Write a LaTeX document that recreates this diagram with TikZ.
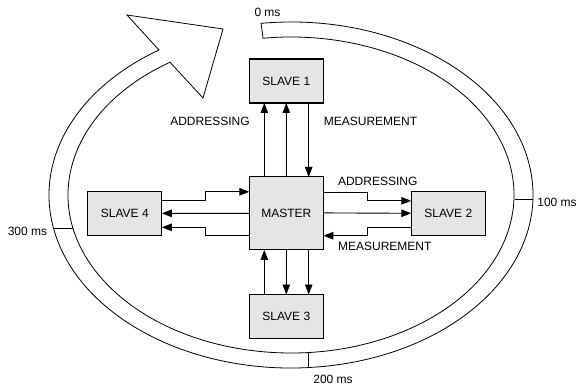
\documentclass[tikz,border=0pt]{standalone}
\usepackage{fontspec}
\setmainfont{Liberation Sans}
\usetikzlibrary{arrows.meta,calc}

\tikzset{
  unit/.style={draw=black, line width=1.1pt, fill=black!10, minimum width=74pt,
    minimum height=44pt, inner sep=0pt, outer sep=0pt, font=\fontsize{12}{14}\selectfont},
  arr/.style={line width=0.9pt, -{Triangle[length=10pt,width=7.5pt]}},
  lbl/.style={inner sep=0pt, font=\fontsize{12}{14}\selectfont},
  band/.style={draw=black, line width=0.8pt, fill=white},
}

\begin{document}
\begin{tikzpicture}[x=1pt,y=1pt]
\useasboundingbox (0,0) rectangle (578,389);

% cycle band around the bus, ending in a big arrow head
\coordinate (c) at (291,194);
\draw[band]
  ($(c)+({242*cos(97.1)},{173*sin(97.1)})$)
    arc[start angle=97.1, end angle=-236.94, x radius=242pt, y radius=173pt]
  -- (127,374) -- (223,360) -- (203,291)
  -- ($(c)+({223*cos(-237.14)},{158*sin(-237.14)})$)
    arc[start angle=-237.14, end angle=97.2, x radius=223pt, y radius=158pt]
  -- cycle;

% time marks across the band
\coordinate (t1o) at (532.9,190);  \coordinate (t1i) at (514.9,190);
\coordinate (t2o) at (308,21.4);   \coordinate (t2i) at (308,36.5);
\coordinate (t3o) at (53.5,161);   \coordinate (t3i) at (72.9,161);
\draw[line width=0.8pt] (t1o) -- (t1i);
\draw[line width=0.8pt] (t2o) -- (t2i);
\draw[line width=0.8pt] (t3o) -- (t3i);

\node[lbl] (l0)   at (267.5,377) {0 ms};
\node[lbl] (l100) at (557,187)   {100 ms};
\node[lbl] (l200) at (333,10)    {200 ms};
\node[lbl] (l300) at (27.5,157.3) {300 ms};

% units
\node[unit, minimum height=73pt] (m) at (286.3,175.6) {MASTER};
\node[unit] (s1) at (286.3,308)   {SLAVE 1};
\node[unit] (s2) at (448.3,175.2) {SLAVE 2};
\node[unit] (s3) at (286.3,72.5)  {SLAVE 3};
\node[unit] (s4) at (124.8,175.7) {SLAVE 4};

% master <-> slave 1
\draw[arr] ([xshift=-22pt]m.north) -- ([xshift=-22pt]s1.south);
\draw[arr] (m.north) -- (s1.south);
\draw[arr] ([xshift=22.4pt]s1.south) -- ([xshift=22.4pt]m.north);

% master <-> slave 3
\draw[arr] ([xshift=-22pt]s3.north) -- ([xshift=-22pt]m.south);
\draw[arr] (m.south) -- (s3.north);
\draw[arr] ([xshift=22.4pt]m.south) -- ([xshift=22.4pt]s3.north);

% master <-> slave 2
\draw[arr] ([yshift=21pt]m.east) -- ++(44,0) |- ([yshift=13pt]s2.west);
\draw[arr] ([yshift=0.5pt]m.east) -- ([yshift=0.5pt]s2.west);
\draw[arr] ([yshift=-13.5pt]s2.west) -- ++(-44,0) |- ([yshift=-22.3pt]m.east);

% master <-> slave 4
\draw[arr] ([yshift=12.6pt]s4.east) -- ++(43.7,0) |- ([yshift=21.6pt]m.west);
\draw[arr] (m.west) -- (s4.east);
\draw[arr] ([yshift=-21.6pt]m.west) -- ++(-43.6,0) |- ([yshift=-14pt]s4.east);

\node[lbl] (a1) at (210,267.3)   {ADDRESSING};
\node[lbl] (m1) at (370.5,267.3) {MEASUREMENT};
\node[lbl] (a2) at (377.7,208)   {ADDRESSING};
\node[lbl] (m2) at (384.8,143)   {MEASUREMENT};
\end{tikzpicture}
\end{document}
